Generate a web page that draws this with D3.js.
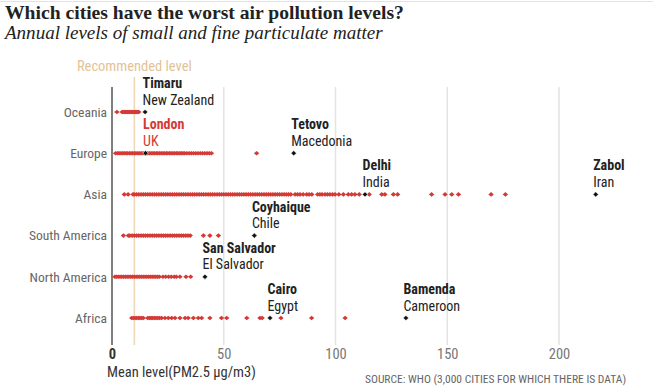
<!DOCTYPE html>
<html><head><meta charset="utf-8">
<script src="https://cdn.jsdelivr.net/npm/d3@7"></script>
<style>
body{margin:0;background:#fff;}
svg{display:block;}
</style></head><body>
<svg id="c" width="653" height="392"></svg>
<script>
const regions = ["Oceania","Europe","Asia","South America","North America","Africa"];
const oceania = [2.2,4.5,5,5.5,6,6.5,7,7.5,8,8.5,9,9.5,10,10.5,11,11.5,12];
const europe = [1.6,2.5,3.2,4,4.8,5.5,6.3,7,7.8,8.5,9.2,10,10.7,11.5,12.2,13,13.8,14.5,15.3,16,16.8,17.5,18.3,19,19.8,20.5,21.3,22,22.8,23.5,24.3,25,25.8,26.5,27.3,28,28.8,29.5,30.3,31,31.8,32.5,33.5,34.5,35.5,36.5,37.5,38.5,39.5,40.5,41.5,42.5,43.5,44.5,64.7];
const asia = [5.5,7.2,9.4,10,11,12,13,14,15,16,17,18,19,20,21,22,23,24,25,26,27,28,29,30,31,32,33,34,35,36,37,38,39,40,41,42,43,44,45,46,47,48,49,50,51,52,53,54,55,56,57,58,59,60,61,62,63,64,65,66,67,68,69,70,71,72,73,74,75,76,77,78,79,80,81.9,83,84.1,85.5,87.1,88.2,89.4,92,93,94,95.3,96.4,97.5,98.7,99.8,101.5,103.5,105.7,107.2,108.7,110.6,115.1,120.7,122.1,125.9,127.8,143,149,152,155,169.6,176];
const southAmerica = [5.1,7.3,8,9,10,11,12,13,14,15,16,17,18,19,20,21,22,23,24,25,26,27,28,29,30,31,32,33,34,35,40.9,43.8,47.6];
const northAmerica = [1.3,2,2.8,3.6,4.4,5.2,6,6.8,7.6,8.4,9.2,10,10.8,11.6,12.4,13.2,14,14.8,15.6,16.4,17.2,18,18.8,19.6,20.4,21.2,22.8,24,25.3,26.5,27.8,28.8,30.4,33.1,35.2];
const africa = [8.8,9.5,10.3,11,11.8,12.5,13.3,14,16,16.8,17.5,18.2,19,19.7,20.5,21.3,22.2,23.7,25.2,26.7,28.2,30.4,32.7,34.1,36.4,38.6,40.1,43.8,49,51.3,60.3,66.2,67.2,75.6,89.3,104.3];
const seriesByRegion = [oceania, europe, asia, southAmerica, northAmerica, africa];

const cityNames = ["Timaru","London","Tetovo","Delhi","Zabol","Coyhaique","San Salvador","Cairo","Bamenda"];
const cityCountries = ["New Zealand","UK","Macedonia","India","Iran","Chile","El Salvador","Egypt","Cameroon"];
const cityRegions = ["Oceania","Europe","Europe","Asia","Asia","South America","North America","Africa","Africa"];
const cityValues = [14.8,15,81.3,113.2,216.4,63.7,41.6,70.7,131.5];
const cityHighlight = [false,true,false,false,false,false,false,false,false];

const xTicks = [0,50,100,150,200];
const recommended = 10;

(function(){
const svg = d3.select("#c");
const red = "#d43a35";
const x = d3.scaleLinear().domain([0,236]).range([112,639.5]);
const y = d3.scalePoint().domain(regions).range([112,318]);
const plotTop = 87, plotBottom = 345;
const condFont = "'Liberation Sans Narrow','Roboto Condensed',Roboto,sans-serif";

// top rule
svg.append("line").attr("x1",0).attr("x2",653).attr("y1",1.5).attr("y2",1.5).attr("stroke","#e2e2e2").attr("stroke-width",1);

// title
const title = svg.append("text").attr("x",5).attr("y",18.5)
  .attr("font-family","'Liberation Serif','DejaVu Serif',serif").attr("font-weight","bold")
  .attr("font-size",19).attr("fill","#222").text("Which cities have the worst air pollution levels?");
const sub = svg.append("text").attr("x",5).attr("y",38.5)
  .attr("font-family","'Liberation Serif','DejaVu Serif',serif").attr("font-style","italic")
  .attr("font-size",19).attr("fill","#222").text("Annual levels of small and fine particulate matter");
function fitW(sel, w){ const cur = sel.node().getComputedTextLength(); const fs = +sel.attr("font-size"); sel.attr("font-size", fs*w/cur); }
fitW(title, 399); fitW(sub, 378);

// gridlines
svg.append("g").selectAll("line").data(xTicks.filter(d=>d>0)).join("line")
  .attr("x1",d=>x(d)).attr("x2",d=>x(d)).attr("y1",plotTop).attr("y2",plotBottom)
  .attr("stroke","#e3e3e3").attr("stroke-width",1.5);

// recommended level
svg.append("line").attr("x1",x(recommended)).attr("x2",x(recommended)).attr("y1",77).attr("y2",plotBottom)
  .attr("stroke","#ecd6b6").attr("stroke-width",1.5);
svg.append("text").attr("font-family",condFont).attr("x",x(recommended)).attr("y",71).attr("text-anchor","middle")
  .attr("font-size",14.5).attr("fill","#e2c398").text("Recommended level");

// axis line at zero
svg.append("line").attr("x1",x(0)).attr("x2",x(0)).attr("y1",plotTop).attr("y2",plotBottom)
  .attr("stroke","#555").attr("stroke-width",1.5);

// x axis
const xAxis = d3.axisBottom(x).tickValues(xTicks).tickSize(0).tickPadding(4).tickFormat(d3.format("d"));
const gx = svg.append("g").attr("transform",`translate(0,${plotBottom})`).call(xAxis);
gx.select(".domain").remove();
gx.selectAll("text").attr("font-size",14.5).attr("font-family",condFont)
  .attr("font-weight",d=>d===0?"bold":"normal").attr("fill",d=>d===0?"#333":"#777");

// y axis labels
const yAxis = d3.axisLeft(y).tickSize(0).tickPadding(5);
const gy = svg.append("g").attr("transform",`translate(${x(0)},0)`).call(yAxis);
gy.select(".domain").remove();
gy.selectAll("text").attr("font-size",13.5).attr("fill","#666").attr("font-family",condFont);

// dots
const diamond = "M0,-2.3L2.7,0L0,2.3L-2.7,0Z";
regions.forEach((r,i)=>{
  svg.append("g").selectAll("path").data(seriesByRegion[i]).join("path")
    .attr("d",diamond).attr("transform",d=>`translate(${x(d)},${y(r)})`).attr("fill",red);
});

// highlighted cities
const cities = cityNames.map((n,i)=>({name:n,country:cityCountries[i],region:cityRegions[i],value:cityValues[i],hl:cityHighlight[i]}));
const cg = svg.append("g").selectAll("g").data(cities).join("g")
  .attr("transform",d=>`translate(${x(d.value)},${y(d.region)})`);
cg.append("path").attr("d","M0,-2.6L2.8,0L0,2.6L-2.8,0Z").attr("fill","#111").attr("stroke","#fff").attr("stroke-width",0.6);
cg.append("text").attr("font-family",condFont).attr("x",-2.5).attr("y",-24).attr("font-size",14).attr("font-weight","bold")
  .attr("fill",d=>d.hl?red:"#222").text(d=>d.name);
cg.append("text").attr("font-family",condFont).attr("x",-2.5).attr("y",-7.5).attr("font-size",14)
  .attr("fill",d=>d.hl?red:"#222").text(d=>d.country);

// axis title & source
svg.append("text").attr("font-family",condFont).attr("x",107).attr("y",376.5).attr("font-size",14.5).attr("fill","#333")
  .text("Mean level(PM2.5 µg/m3)");
svg.append("text").attr("font-family",condFont).attr("x",365).attr("y",383).attr("font-size",11.5).attr("fill","#666")
  .text("SOURCE: WHO (3,000 CITIES FOR WHICH THERE IS DATA)");
})();
</script></body></html>
